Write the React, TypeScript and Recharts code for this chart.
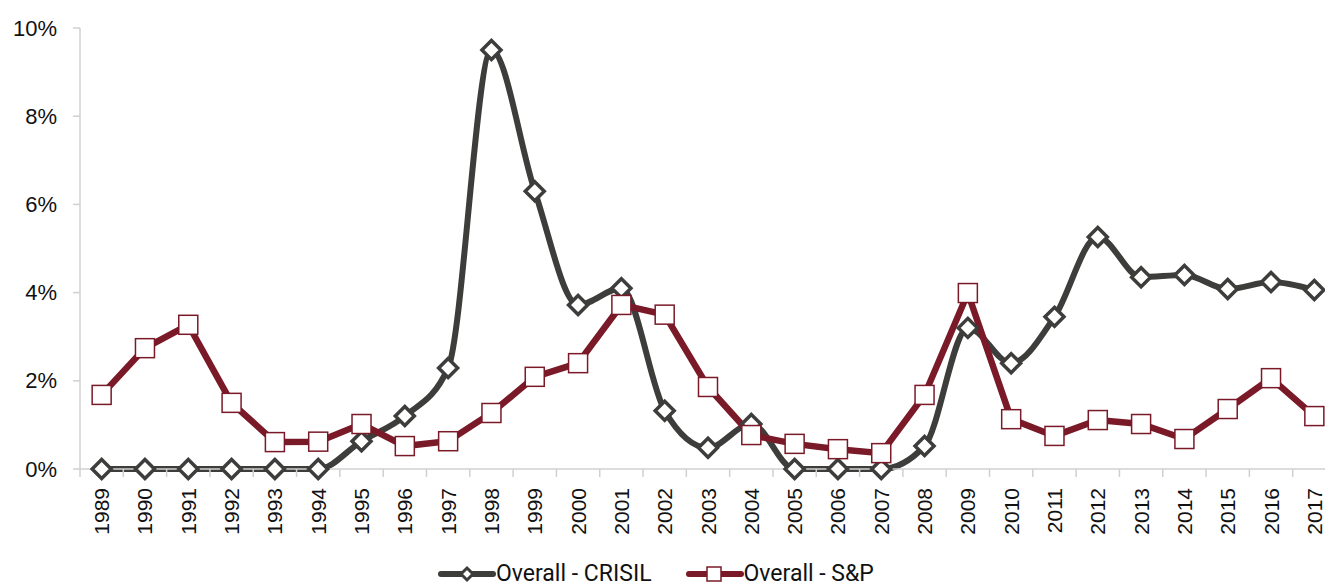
import { LineChart, Line, XAxis, YAxis, Legend } from "recharts";

const years = [
  "1989", "1990", "1991", "1992", "1993", "1994", "1995", "1996", "1997", "1998",
  "1999", "2000", "2001", "2002", "2003", "2004", "2005", "2006", "2007", "2008",
  "2009", "2010", "2011", "2012", "2013", "2014", "2015", "2016", "2017",
];

const crisilRates = [
  0, 0, 0, 0, 0, 0, 0.63, 1.2, 2.29, 9.5,
  6.3, 3.72, 4.1, 1.32, 0.48, 1.02, 0, 0, 0, 0.52,
  3.2, 2.4, 3.45, 5.26, 4.35, 4.4, 4.08, 4.24, 4.06,
];

const spRates = [
  1.68, 2.74, 3.27, 1.5, 0.61, 0.62, 1.02, 0.52, 0.63, 1.27,
  2.09, 2.4, 3.72, 3.5, 1.86, 0.77, 0.57, 0.45, 0.36, 1.68,
  3.99, 1.13, 0.75, 1.11, 1.02, 0.68, 1.36, 2.06, 1.2,
];

const yTicks = [0, 2, 4, 6, 8, 10];

const data = years.map((year, i) => ({
  idx: i,
  year,
  crisil: crisilRates[i],
  sp: spRates[i],
}));

const CRISIL_COLOR = "#3d3d3b";
const SP_COLOR = "#7a1a28";
const AXIS_COLOR = "#d0d0d0";
const TICK_FONT = "'Liberation Sans', Arial, sans-serif";
const LEGEND_FONT = "Roboto, 'Noto Sans', sans-serif";

const CHART_W = 1340;
const CHART_H = 586;
const LEGEND_H = 37;
const MARGIN = { top: 28, right: 4, left: 0, bottom: 0 };
const Y_AXIS_W = 80;
const X_AXIS_H = 80;
const PLOT_BOTTOM = CHART_H - X_AXIS_H - LEGEND_H;
const STEP = (CHART_W - Y_AXIS_W - MARGIN.right) / years.length;

const YearTick = (props: any) => {
  const { x, payload } = props;
  const i = payload.value;
  const half = STEP / 2;
  return (
    <g>
      <line x1={x - half} x2={x - half} y1={PLOT_BOTTOM} y2={PLOT_BOTTOM + 8} stroke={AXIS_COLOR} strokeWidth={1.5} />
      {i === years.length - 1 && (
        <line x1={x + half} x2={x + half} y1={PLOT_BOTTOM} y2={PLOT_BOTTOM + 8} stroke={AXIS_COLOR} strokeWidth={1.5} />
      )}
      <text
        x={0}
        y={0}
        transform={`translate(${x}, ${PLOT_BOTTOM + 19}) rotate(-90)`}
        textAnchor="end"
        dominantBaseline="central"
        fontFamily={TICK_FONT}
        fontSize={21}
        fill="#111"
      >
        {years[i]}
      </text>
    </g>
  );
};

const PercentTick = (props: any) => {
  const { y, payload } = props;
  return (
    <text
      x={57}
      y={y}
      textAnchor="end"
      dominantBaseline="central"
      fontFamily={TICK_FONT}
      fontSize={22}
      fill="#111"
    >
      {`${payload.value}%`}
    </text>
  );
};

const DiamondDot = (props: any) => {
  const { cx, cy, index } = props;
  if (cx == null || cy == null) return null;
  const r = 9.5;
  return (
    <path
      key={`d-${index}`}
      d={`M${cx},${cy - r} L${cx + r},${cy} L${cx},${cy + r} L${cx - r},${cy} Z`}
      fill="#fff"
      stroke={CRISIL_COLOR}
      strokeWidth={3.5}
    />
  );
};

const SquareDot = (props: any) => {
  const { cx, cy, index } = props;
  if (cx == null || cy == null) return null;
  const h = 9.5;
  return (
    <rect
      key={`s-${index}`}
      x={cx - h}
      y={cy - h}
      width={h * 2}
      height={h * 2}
      fill="#fff"
      stroke={SP_COLOR}
      strokeWidth={1.5}
    />
  );
};

const LegendItem = ({ label, color, square }: { label: string; color: string; square: boolean }) => (
  <div style={{ display: "flex", alignItems: "center", marginRight: 34 }}>
    <svg width={58} height={24}>
      <line x1={3} x2={55} y1={12} y2={12} stroke={color} strokeWidth={6} strokeLinecap="round" />
      {square ? (
        <rect x={21} y={5} width={14} height={14} fill="#fff" stroke={color} strokeWidth={1.5} />
      ) : (
        <path d="M29,6 L35,12 L29,18 L23,12 Z" fill="#fff" stroke={color} strokeWidth={3} />
      )}
    </svg>
    <span style={{ fontFamily: LEGEND_FONT, fontSize: 23, color: "#111", lineHeight: "24px" }}>{label}</span>
  </div>
);

const renderLegend = () => (
  <div style={{ display: "flex", paddingLeft: 438, paddingTop: 13, height: 24 }}>
    <LegendItem label="Overall - CRISIL" color={CRISIL_COLOR} square={false} />
    <LegendItem label="Overall - S&P" color={SP_COLOR} square={true} />
  </div>
);

export default function App() {
  return (
    <div
      style={{
        position: "fixed",
        left: 0,
        top: 0,
        width: 1325,
        height: CHART_H,
        overflow: "hidden",
        background: "#fff",
      }}
    >
      <LineChart width={CHART_W} height={CHART_H} data={data} margin={MARGIN}>
        <XAxis
          dataKey="idx"
          type="number"
          domain={[-0.5, years.length - 0.5]}
          ticks={years.map((_, i) => i)}
          interval={0}
          height={X_AXIS_H}
          axisLine={{ stroke: AXIS_COLOR, strokeWidth: 1.5 }}
          tickLine={false}
          tick={<YearTick />}
        />
        <YAxis
          domain={[0, 10]}
          ticks={yTicks}
          width={Y_AXIS_W}
          axisLine={{ stroke: AXIS_COLOR, strokeWidth: 1.5 }}
          tickLine={{ stroke: AXIS_COLOR, strokeWidth: 1.5 }}
          tickSize={7}
          tick={<PercentTick />}
          interval={0}
        />
        <Legend
          verticalAlign="bottom"
          height={LEGEND_H}
          content={renderLegend}
          wrapperStyle={{ left: 0, bottom: 0, width: CHART_W, height: LEGEND_H }}
        />
        <Line
          dataKey="crisil"
          type="monotone"
          stroke={CRISIL_COLOR}
          strokeWidth={6}
          dot={<DiamondDot />}
          activeDot={false}
          isAnimationActive={false}
        />
        <Line
          dataKey="sp"
          type="linear"
          stroke={SP_COLOR}
          strokeWidth={6.5}
          dot={<SquareDot />}
          activeDot={false}
          isAnimationActive={false}
        />
      </LineChart>
    </div>
  );
}
